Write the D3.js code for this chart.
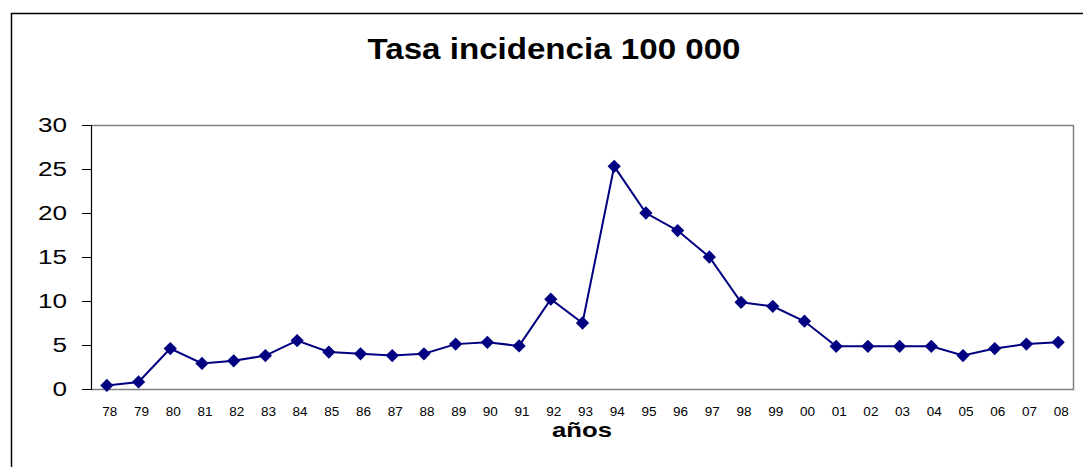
<!DOCTYPE html>
<html>
<head>
<meta charset="utf-8">
<script src="https://cdn.jsdelivr.net/npm/d3@7/dist/d3.min.js"></script>
<style>
  body { margin: 0; background: #fff; }
  svg { display: block; font-family: "Liberation Sans", Arial, sans-serif; }
</style>
</head>
<body>
<svg id="chart" width="1083" height="467"></svg>
<script>
// years shown on the x axis
var years = ["78","79","80","81","82","83","84","85","86","87","88","89","90","91","92","93","94","95","96","97","98","99","00","01","02","03","04","05","06","07","08"];
// incidence per 100 000
var tasa = [0.4,0.8,4.6,2.9,3.2,3.8,5.5,4.2,4.0,3.8,4.0,5.1,5.3,4.9,10.2,7.5,25.3,20.0,18.0,15.0,9.85,9.4,7.7,4.85,4.85,4.85,4.85,3.8,4.6,5.1,5.3];
var yTicks = [0,5,10,15,20,25,30];

var svg = d3.select("#chart");
var margin = {top: 125, left: 91, right: 9, bottom: 78};
var width = 1083 - margin.left - margin.right,
    height = 467 - margin.top - margin.bottom;

// outer frame
svg.append("rect")
  .attr("x", 11.5).attr("y", 13.5)
  .attr("width", 1080).attr("height", 470)
  .attr("fill", "none").attr("stroke", "#000").attr("stroke-width", 1.5);

// text in the original is a bit wide, so stretch it with textLength
svg.append("text")
  .attr("x", 554).attr("y", 59)
  .attr("text-anchor", "middle")
  .attr("font-size", 30).attr("font-weight", "bold")
  .attr("textLength", 373).attr("lengthAdjust", "spacingAndGlyphs")
  .text("Tasa incidencia 100 000");

var g = svg.append("g")
  .attr("transform", "translate(" + margin.left + "," + margin.top + ")");

var x = d3.scaleBand().domain(years).range([0, width]);
var y = d3.scaleLinear().domain([0, 30]).range([height, 0]);

// plot area border (gray)
g.append("path")
  .attr("d", "M0,0.5H" + (width - 0.5) + "V" + (height + 0.5) + "H0")
  .attr("fill", "none").attr("stroke", "#808080").attr("stroke-width", 1.5);

// y axis
var yAxis = g.append("g")
  .call(d3.axisLeft(y).tickValues(yTicks).tickSize(9).tickPadding(15));
yAxis.select(".domain").attr("stroke", "#000").attr("stroke-width", 1.2);
yAxis.selectAll(".tick line").attr("stroke", "#000");
yAxis.selectAll("text").attr("font-size", 20).attr("fill", "#000")
  .attr("font-family", "Liberation Sans, Arial, sans-serif")
  .attr("textLength", function(d) { return String(d).length * 14.5; })
  .attr("lengthAdjust", "spacingAndGlyphs");

// x axis labels
var xAxis = g.append("g")
  .attr("transform", "translate(0," + height + ")")
  .call(d3.axisBottom(x).tickSize(0).tickPadding(17));
xAxis.select(".domain").remove();
xAxis.selectAll("text").attr("font-size", 13.5).attr("fill", "#000")
  .attr("font-family", "Liberation Sans, Arial, sans-serif")
  .attr("dx", 3);

svg.append("text")
  .attr("x", 582).attr("y", 437)
  .attr("text-anchor", "middle")
  .attr("font-size", 21).attr("font-weight", "bold")
  .attr("textLength", 60).attr("lengthAdjust", "spacingAndGlyphs")
  .text("años");

// line
var cx = function(d, i) { return x(years[i]) + x.bandwidth() / 2; };
g.append("path")
  .datum(tasa)
  .attr("fill", "none")
  .attr("stroke", "#000080")
  .attr("stroke-width", 2)
  .attr("d", d3.line().x(cx).y(function(d) { return y(d); }));

// diamond markers
var diamond = d3.symbol().type(d3.symbolSquare).size(88);
g.selectAll(".pt").data(tasa).enter().append("path")
  .attr("class", "pt")
  .attr("d", diamond)
  .attr("fill", "#000080")
  .attr("transform", function(d, i) {
    return "translate(" + cx(d, i) + "," + y(d) + ") rotate(45)";
  });
</script>
</body>
</html>
